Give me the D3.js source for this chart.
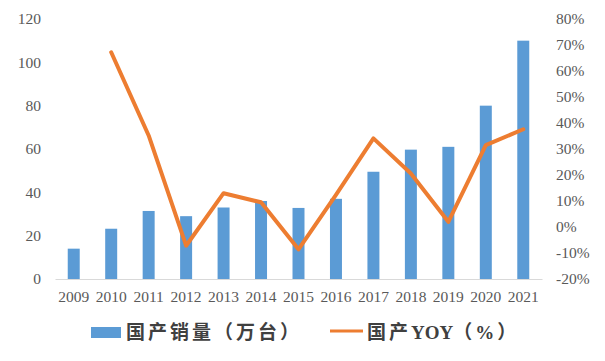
<!DOCTYPE html>
<html><head><meta charset="utf-8">
<script src="https://cdn.jsdelivr.net/npm/d3@7"></script>
<style>
body{margin:0;background:#fff;}
svg{display:block;}
</style></head>
<body>
<svg id="chart" width="605" height="361"></svg>
<script>
const years = ["2009","2010","2011","2012","2013","2014","2015","2016","2017","2018","2019","2020","2021"];
const sales = [14, 23.2, 31.4, 29, 33, 36, 32.8, 37, 49.5, 59.7, 61, 80, 110];
const yoy = [null, 67.2, 35.2, -7.2, 13, 9.5, -8.6, 12.4, 34.1, 20.6, 2, 31.5, 37.6];
const leftTicks = [0, 20, 40, 60, 80, 100, 120];
const rightTicks = [-20, -10, 0, 10, 20, 30, 40, 50, 60, 70, 80];
const legendLabels = ["国产销量（万台）", "国产YOY（%）"];

(function(){
const svg = d3.select("#chart");
const pl = 55, pr = 542, pt = 19, pb = 279;
const x = d3.scaleBand().domain(years).range([pl, pr]).paddingInner(0.68).paddingOuter(0.34);
const yL = d3.scaleLinear().domain([0, 120]).range([pb, pt]);
const yR = d3.scaleLinear().domain([-20, 80]).range([pb, pt]);
const tickFont = "'Liberation Serif','Times New Roman',serif";
const tickColor = "#595959";

// left axis
const gl = svg.append("g").attr("transform", `translate(${pl},0)`)
  .call(d3.axisLeft(yL).tickValues(leftTicks).tickSize(0).tickPadding(14));
gl.select(".domain").remove();
gl.selectAll("text").attr("font-family", tickFont).attr("font-size", "15.5px").attr("fill", tickColor);

// right axis
const gr = svg.append("g").attr("transform", `translate(${pr},0)`)
  .call(d3.axisRight(yR).tickValues(rightTicks).tickSize(0).tickPadding(14).tickFormat(d => d + "%"));
gr.select(".domain").remove();
gr.selectAll("text").attr("font-family", tickFont).attr("font-size", "15.5px").attr("fill", tickColor);

// bars
svg.append("g").selectAll("rect").data(years).join("rect")
  .attr("x", d => x(d)).attr("width", x.bandwidth())
  .attr("y", (d, i) => yL(sales[i])).attr("height", (d, i) => yL(0) - yL(sales[i]))
  .attr("fill", "#5b9bd5");

// x axis
const gx = svg.append("g").attr("transform", `translate(0,${pb})`)
  .call(d3.axisBottom(x).tickSize(0).tickPadding(12));
gx.select(".domain").attr("stroke", "#d9d9d9").attr("stroke-width", 1);
gx.selectAll("text").attr("font-family", tickFont).attr("font-size", "15.5px").attr("fill", tickColor);

// line
const line = d3.line()
  .defined((d, i) => yoy[i] !== null)
  .x(d => x(d) + x.bandwidth() / 2)
  .y((d, i) => yR(yoy[i]));
svg.append("path").datum(years).attr("d", line)
  .attr("fill", "none").attr("stroke", "#ed7d31").attr("stroke-width", 4)
  .attr("stroke-linejoin", "round").attr("stroke-linecap", "round");

// legend
const legFont = "'Liberation Serif','Noto Sans CJK SC',serif";
function legendText(g, xx, yy, label) {
  const t = g.append("text").attr("x", xx).attr("y", yy)
    .attr("font-family", legFont).attr("font-weight", "bold").attr("font-size", "19px")
    .attr("fill", "#404040");
  const parts = label.match(/[A-Za-z]+|[^A-Za-z]+/g);
  parts.forEach(p => {
    t.append("tspan").text(p)
      .attr("letter-spacing", /[A-Za-z]/.test(p) ? "0px" : "3px");
  });
}
const lg = svg.append("g");
lg.append("rect").attr("x", 91).attr("y", 327).attr("width", 30).attr("height", 11).attr("fill", "#5b9bd5");
legendText(lg, 126, 339, legendLabels[0]);
lg.append("line").attr("x1", 330).attr("x2", 363).attr("y1", 331).attr("y2", 331)
  .attr("stroke", "#ed7d31").attr("stroke-width", 3);
legendText(lg, 367, 339, legendLabels[1]);
})();
</script>
</body></html>
